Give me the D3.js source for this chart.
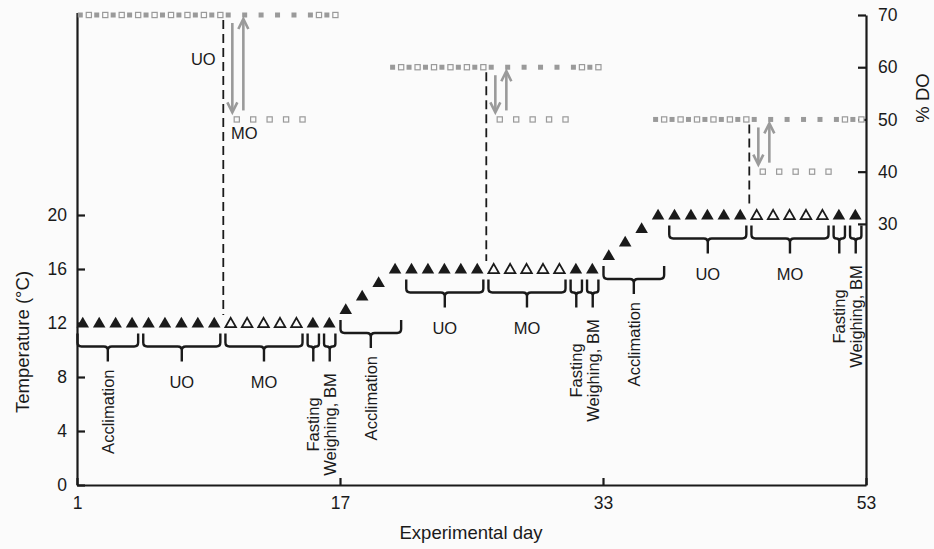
<!DOCTYPE html>
<html><head><meta charset="utf-8">
<script src="https://cdn.jsdelivr.net/npm/d3@7"></script>
<style>
body{margin:0;background:#fbfbfb}
svg{display:block}
text{font-family:"Liberation Sans",Arial,Helvetica,sans-serif;fill:#1a1a1a}
</style>
</head><body><svg id="c" width="934" height="549"></svg>
<script>
// ---- data ----
const temperature = [12,12,12,12,12,12,12,12,12,12,12,12,12,12,12,12,
  13,14,15,16,16,16,16,16,16,16,16,16,16,16,16,16,
  17,18,19,20,20,20,20,20,20,20,20,20,20,20,20,20];
const openTriangleDays = [9,10,11,12,13,25,26,27,28,29,41,42,43,44,45];
const xTickPositions = [0,16,32,48];
const xTickLabels = ["1","17","33","53"];
const tempTicks = [0,4,8,12,16,20];
const doTicks = [30,40,50,60,70];
const doFilledDays = [0,1,2,3,4,5,6,7,8,9,10,11,12,13,14,15,
  19,20,21,22,23,24,25,26,27,28,29,30,31,
  35,36,37,38,39,40,41,42,43,44,45,46,47];
const doFilledValues = [70,70,70,70,70,70,70,70,70,70,70,70,70,70,70,70,
  60,60,60,60,60,60,60,60,60,60,60,60,60,
  50,50,50,50,50,50,50,50,50,50,50,50,50];
const doOpenDays = doFilledDays;
const doOpenValues = [70,70,70,70,70,70,70,70,70,50,50,50,50,50,70,70,
  60,60,60,60,60,60,50,50,50,50,50,60,60,
  50,50,50,50,50,50,40,40,40,40,40,50,50];
const phaseLabels = ["Acclimation","UO","MO","Fasting","Weighing, BM",
  "Acclimation","UO","MO","Fasting","Weighing, BM",
  "Acclimation","UO","MO","Fasting","Weighing, BM"];
const phaseStart = [0,4,9,14,15, 16,20,25,30,31, 32,36,41,46,47];
const phaseEnd   = [3,8,13,14,15, 19,24,29,30,31, 35,40,45,46,47];
const switchDays = [9,25,41];
const doHigh = [70,60,50];
const doLow  = [50,50,40];

// ---- scales ----
const svg = d3.select("#c");
const x = d3.scaleLinear().domain([0,48]).range([77,866]);
const yT = d3.scaleLinear().domain([0,35]).range([485,12.5]);
const yD = d3.scaleLinear().domain([-20,70]).range([485,15]);

const ink = "#1a1a1a", gray = "#9a9a9a";
const annSize = 16.5;

// ---- axes ----
function styleAxis(g){
  g.select(".domain").attr("stroke",ink).attr("stroke-width",2.2);
  g.selectAll(".tick line").attr("stroke",ink).attr("stroke-width",2.2);
  g.selectAll(".tick text").attr("font-size",17.5).attr("fill",ink)
   .attr("font-family",'"Liberation Sans",Arial,sans-serif');
}
svg.append("g").attr("transform","translate(77,0)")
  .call(d3.axisLeft(yT).tickValues(tempTicks).tickSizeInner(-8).tickSizeOuter(0).tickPadding(10))
  .call(styleAxis);
svg.append("g").attr("transform","translate(866,0)")
  .call(d3.axisRight(yD).tickValues(doTicks).tickSizeInner(-8).tickSizeOuter(0).tickPadding(12))
  .call(styleAxis);
svg.append("g").attr("transform","translate(0,485)")
  .call(d3.axisBottom(x).tickValues(xTickPositions).tickFormat((d,i)=>xTickLabels[i])
        .tickSizeInner(-7).tickSizeOuter(0).tickPadding(12))
  .call(styleAxis);

svg.append("text").attr("transform","translate(22,342) rotate(-90)")
  .attr("text-anchor","middle").attr("dominant-baseline","central")
  .attr("font-size",18.5).text("Temperature (°C)");
svg.append("text").attr("x",471).attr("y",539)
  .attr("text-anchor","middle").attr("font-size",18.5).text("Experimental day");
svg.append("text").attr("transform","translate(922,98) rotate(-90)")
  .attr("text-anchor","middle").attr("dominant-baseline","central")
  .attr("font-size",18.5).text("% DO");

// ---- DO markers ----
svg.append("g").selectAll("rect").data(doFilledDays).join("rect")
  .attr("x",(d)=>x(d+0.2)-2.5).attr("y",(d,i)=>yD(doFilledValues[i])-2.5)
  .attr("width",5).attr("height",5).attr("fill",gray);
svg.append("g").selectAll("rect").data(doOpenDays).join("rect")
  .attr("x",(d)=>x(d+0.72)-2.6).attr("y",(d,i)=>yD(doOpenValues[i])-2.6)
  .attr("width",5.2).attr("height",5.2).attr("fill","#fbfbfb")
  .attr("stroke",gray).attr("stroke-width",1.2);

// ---- switch lines and arrows ----
switchDays.forEach((s,k)=>{
  const xd = x(s-0.1);
  svg.append("line").attr("x1",xd).attr("x2",xd)
    .attr("y1",yD(doHigh[k])+5).attr("y2",yT(temperature[s])-8)
    .attr("stroke",ink).attr("stroke-width",1.8).attr("stroke-dasharray","9,5");
  const xa = x(s+0.45), xb = x(s+1.12);
  const dTop = yD(doHigh[k])+8, dTip = yD(doLow[k])-7;
  const uBot = yD(doLow[k])-9, uTip = yD(doHigh[k])+4;
  const g = svg.append("g").attr("stroke",gray).attr("stroke-width",2.6).attr("fill","none");
  g.append("line").attr("x1",xa).attr("x2",xa).attr("y1",dTop).attr("y2",dTip-1);
  g.append("path").attr("d",`M${xa-5},${dTip-10}L${xa},${dTip}L${xa+5},${dTip-10}`);
  g.append("line").attr("x1",xb).attr("x2",xb).attr("y1",uBot).attr("y2",uTip+1);
  g.append("path").attr("d",`M${xb-5},${uTip+10}L${xb},${uTip}L${xb+5},${uTip+10}`);
  if(k===0){
    svg.append("text").attr("x",xd-20).attr("y",yD(61.5)).attr("text-anchor","middle")
      .attr("dominant-baseline","central").attr("font-size",annSize).text("UO");
    svg.append("text").attr("x",xd+21).attr("y",yD(47.5)).attr("text-anchor","middle")
      .attr("dominant-baseline","central").attr("font-size",annSize).text("MO");
  }
});

// ---- temperature triangles ----
const tri = d3.symbol().type(d3.symbolTriangle);
svg.append("g").selectAll("path").data(temperature).join("path")
  .attr("transform",(d,i)=>`translate(${x(i+0.35)},${yT(d)+1})`)
  .attr("d",(d,i)=>openTriangleDays.includes(i)?tri.size(48)():tri.size(68)())
  .attr("fill",(d,i)=>openTriangleDays.includes(i)?"#fbfbfb":ink)
  .attr("stroke",(d,i)=>openTriangleDays.includes(i)?ink:"none")
  .attr("stroke-width",1.8);

// ---- braces and phase labels ----
phaseLabels.forEach((lab,k)=>{
  const a = phaseStart[k], b = phaseEnd[k];
  const x0 = x(a+0.03), x1 = x(b+0.72), xc = (x0+x1)/2;
  const minT = d3.min(temperature.slice(a,b+1));
  const top = yT(minT)+10.5, h = top+13, sb = h+15;
  const r = Math.min(4,(x1-x0)/4);
  const d = `M${x0},${top}L${x0},${h-r}Q${x0},${h} ${x0+r},${h}L${xc-r},${h}Q${xc},${h} ${xc},${h+r}`+
            `M${x1},${top}L${x1},${h-r}Q${x1},${h} ${x1-r},${h}L${xc+r},${h}Q${xc},${h} ${xc},${h+r}L${xc},${sb}`;
  svg.append("path").attr("d",d).attr("fill","none").attr("stroke",ink).attr("stroke-width",2.4);
  const type = k%5;
  if(type===0){
    svg.append("text").attr("transform",`translate(${xc},${sb+8}) rotate(-90)`)
      .attr("text-anchor","end").attr("dominant-baseline","central").attr("font-size",annSize).text(lab);
  } else if(type<3){
    svg.append("text").attr("x",xc).attr("y",sb+20).attr("text-anchor","middle")
      .attr("dominant-baseline","central").attr("font-size",annSize).text(lab);
  } else {
    svg.append("text").attr("transform",`translate(${xc},${sb+63}) rotate(-90)`)
      .attr("text-anchor","middle").attr("dominant-baseline","central").attr("font-size",annSize).text(lab);
  }
});
</script>
</body></html>
